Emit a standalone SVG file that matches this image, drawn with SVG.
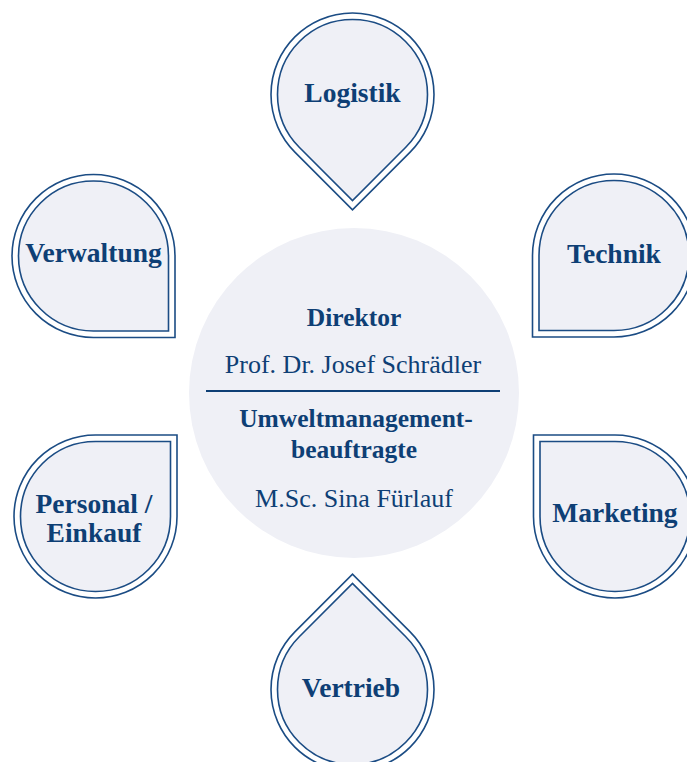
<svg xmlns="http://www.w3.org/2000/svg" xmlns:xlink="http://www.w3.org/1999/xlink" width="687" height="762" viewBox="0 0 687 762">
  <style>
    .pin-outer { fill: #ffffff; stroke: #1b4c84; stroke-width: 1.6; }
    .pin-inner { fill: #eff0f6; stroke: #1b4c84; stroke-width: 1.6; }
    .label { font-family: "Liberation Serif", "DejaVu Serif", serif; font-weight: bold; font-size: 27.5px; fill: #0e3f75; text-anchor: middle; }
    .title { font-family: "Liberation Serif", "DejaVu Serif", serif; font-weight: bold; font-size: 25.5px; fill: #0e3f75; text-anchor: middle; }
    .name { font-family: "Liberation Serif", "DejaVu Serif", serif; font-size: 26px; fill: #0e3f75; text-anchor: middle; }
  </style>
  <defs>
    <!-- teardrop: circle with one square corner, corner at bottom-right of local origin -->
    <path id="drop-outer" d="M81.5,0 L81.5,81.5 L0,81.5 A81.5,81.5 0 1 1 81.5,0 Z"/>
    <path id="drop-inner" d="M75,0 L75,75 L0,75 A75,75 0 1 1 75,0 Z"/>
  </defs>

  <rect width="687" height="762" fill="#ffffff"/>

  <!-- central unit -->
  <g id="center">
    <circle cx="354" cy="393" r="165" fill="#eff0f6"/>
    <text class="title" x="354" y="326">Direktor</text>
    <text class="name" x="353" y="373">Prof. Dr. Josef Schrädler</text>
    <line x1="206" y1="391" x2="500" y2="391" stroke="#0e3f75" stroke-width="2"/>
    <text class="title" x="356" y="427">Umweltmanagement-</text>
    <text class="title" x="354" y="458">beauftragte</text>
    <text class="name" x="354" y="507">M.Sc. Sina Fürlauf</text>
  </g>

  <g id="logistik">
    <g transform="translate(352.5,94.5) rotate(45)">
      <use xlink:href="#drop-outer" class="pin-outer"/>
      <use xlink:href="#drop-inner" class="pin-inner"/>
    </g>
    <text class="label" x="352.5" y="101.5">Logistik</text>
  </g>

  <g id="verwaltung">
    <g transform="translate(93.5,256)">
      <use xlink:href="#drop-outer" class="pin-outer"/>
      <use xlink:href="#drop-inner" class="pin-inner"/>
    </g>
    <text class="label" x="93.5" y="262">Verwaltung</text>
  </g>

  <g id="technik">
    <g transform="translate(614,255.5) rotate(90)">
      <use xlink:href="#drop-outer" class="pin-outer"/>
      <use xlink:href="#drop-inner" class="pin-inner"/>
    </g>
    <text class="label" x="614" y="262.5">Technik</text>
  </g>

  <g id="personal">
    <g transform="translate(95.5,516.5) rotate(-90)">
      <use xlink:href="#drop-outer" class="pin-outer"/>
      <use xlink:href="#drop-inner" class="pin-inner"/>
    </g>
    <text class="label" x="94" y="513">Personal /</text>
    <text class="label" x="94" y="541.5">Einkauf</text>
  </g>

  <g id="marketing">
    <g transform="translate(615,516.5) rotate(180)">
      <use xlink:href="#drop-outer" class="pin-outer"/>
      <use xlink:href="#drop-inner" class="pin-inner"/>
    </g>
    <text class="label" x="615" y="521.5">Marketing</text>
  </g>

  <g id="vertrieb">
    <g transform="translate(352.5,689.5) rotate(-135)">
      <use xlink:href="#drop-outer" class="pin-outer"/>
      <use xlink:href="#drop-inner" class="pin-inner"/>
    </g>
    <text class="label" x="351" y="696.5">Vertrieb</text>
  </g>

  <g id="connectors"/>
</svg>
